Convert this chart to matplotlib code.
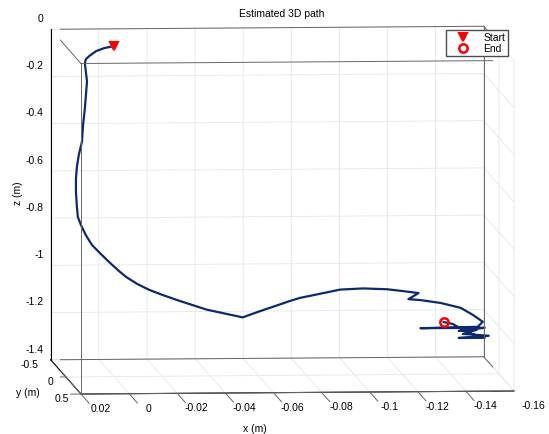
import numpy as np
import matplotlib.pyplot as plt
from mpl_toolkits.mplot3d import proj3d

plt.rcParams['font.family'] = ['Liberation Sans', 'DejaVu Sans']
plt.rcParams['grid.color'] = '#e6e6e6'
plt.rcParams['grid.linewidth'] = 0.6

# estimated path (y stays at 0)
path_x = [0.0, 0.0041, 0.0075, 0.0104, 0.0117, 0.0121, 0.0117, 0.0112, 0.0117, 0.0121,
          0.0129, 0.0133, 0.0146, 0.0154, 0.0158, 0.0158, 0.0154, 0.0150, 0.0137, 0.0117,
          0.0091, 0.0058, 0.0020, -0.0021, -0.0051, -0.0097, -0.0147, -0.0201, -0.0259, -0.0322,
          -0.0385, -0.0460, -0.0535, -0.0606, -0.0669, -0.0731, -0.0773, -0.0857, -0.0940, -0.1036,
          -0.1136, -0.1203, -0.1266, -0.1224, -0.1274, -0.1358, -0.1441, -0.1491, -0.1533, -0.1512,
          -0.1274, -0.1541, -0.1433, -0.1508, -0.1450, -0.1558, -0.1433, -0.1541, -0.1475, -0.1408,
          -0.1370]
path_z = [0.0, -0.0085, -0.0213, -0.0426, -0.0553, -0.0723, -0.1064, -0.1489, -0.2128, -0.2638,
          -0.3404, -0.4042, -0.4595, -0.5106, -0.5617, -0.6170, -0.6808, -0.7234, -0.7574, -0.8000,
          -0.8426, -0.8766, -0.9149, -0.9532, -0.9787, -1.0085, -1.0340, -1.0553, -1.0766, -1.0979,
          -1.1191, -1.1361, -1.1531, -1.1276, -1.1064, -1.0851, -1.0723, -1.0553, -1.0383, -1.0340,
          -1.0383, -1.0468, -1.0553, -1.0808, -1.0851, -1.0979, -1.1191, -1.1489, -1.1787, -1.2000,
          -1.2042, -1.2042, -1.2170, -1.2127, -1.2297, -1.2383, -1.2468, -1.2468, -1.2255, -1.1872,
          -1.1787]
path_y = [0.0] * len(path_x)

x_lim = (-0.16, 0.02)
y_lim = (-0.5, 0.5)
z_lim = (-1.4, 0)
x_ticks = [0.02, 0, -0.02, -0.04, -0.06, -0.08, -0.1, -0.12, -0.14, -0.16]
x_labels = ['0.02', '0', '-0.02', '-0.04', '-0.06', '-0.08', '-0.1', '-0.12', '-0.14', '-0.16']
y_ticks = [-0.5, 0, 0.5]
y_labels = ['-0.5', '0', '0.5']
z_ticks = [0, -0.2, -0.4, -0.6, -0.8, -1, -1.2, -1.4]
z_labels = ['0', '-0.2', '-0.4', '-0.6', '-0.8', '-1', '-1.2', '-1.4']

fs = 7.5
edge_col = '0.4'

fig = plt.figure(figsize=(5.49, 4.34), dpi=100)
ax = fig.add_subplot(projection='3d', proj_type='ortho')
ax.set_position([2 / 549, 1 / 434, 1.0, 1.0])

ax.plot(path_x, path_y, path_z, color='#0d2a6e', lw=1.6)
ax.plot(path_x[:1], path_y[:1], path_z[:1], 'v', color='red', ms=6, mew=1.5, label='Start')
ax.plot(path_x[-1:], path_y[-1:], path_z[-1:], 'o', color='red', mfc='none', ms=6, mew=1.8, label='End')

# all 12 box edges, MATLAB style
for a in x_lim:
    for b in y_lim:
        ax.plot([a, a], [b, b], z_lim, color=edge_col, lw=0.7)
    for c in z_lim:
        ax.plot([a, a], y_lim, [c, c], color=edge_col, lw=0.7)
for b in y_lim:
    for c in z_lim:
        ax.plot(x_lim, [b, b], [c, c], color=edge_col, lw=0.7)

ax.set_xlim(x_lim)
ax.set_ylim(y_lim)
ax.set_zlim(z_lim)
ax.set_xticks(x_ticks)
ax.set_yticks(y_ticks)
ax.set_zticks(z_ticks)
for axis in (ax.xaxis, ax.yaxis, ax.zaxis):
    axis.set_tick_params(label1On=False, label2On=False)
    axis.set_pane_color((1, 1, 1, 0))
    axis.pane.set_edgecolor(edge_col)
    axis._axinfo['tick']['inward_factor'] = 0
    axis._axinfo['tick']['outward_factor'] = 0

ax.set_box_aspect((432, 384, 330), zoom=1.497)
ax.view_init(elev=5.1, azim=85.5)
fig.canvas.draw()
M = ax.get_proj()


def label_at(x, y, z, s, **kw):
    # flat text at the projected spot of a 3D point
    px, py, _ = proj3d.proj_transform(x, y, z, M)
    ax.text2D(px, py, s, transform=ax.transData, fontsize=fs, va='center', **kw)


# ticks and tick labels placed like MATLAB does
for xv, lab in zip(x_ticks, x_labels):
    ax.plot([xv, xv], [0.5, 0.77], [-1.4, -1.4], color=edge_col, lw=0.7)
    label_at(xv - 0.0005, 1.1, -1.377, lab, ha='center')
for yv, lab in zip(y_ticks, y_labels):
    ax.plot([0.02, 0.0242], [yv, yv], [-1.4, -1.4], color=edge_col, lw=0.7)
    label_at(0.025, yv, -1.422, lab, ha='right')
for zv, lab in zip(z_ticks, z_labels):
    ax.plot([0.02, 0.02], [-0.5, -0.77], [zv, zv], color=edge_col, lw=0.7)
    label_at(0.0192, -0.8, zv, lab, ha='right')

ax.legend(loc='upper right', bbox_to_anchor=(508 / 549, 1 - 30 / 434), bbox_transform=fig.transFigure,
          fontsize=fs, fancybox=False, edgecolor='0.3', framealpha=1, borderaxespad=0,
          handlelength=2.9, handletextpad=0.5, borderpad=0.25, labelspacing=0.1)

fig.text(282 / 549, 1 - 14 / 434, 'Estimated 3D path', fontsize=fs, ha='center', va='center')
fig.text(255 / 549, 1 - 429 / 434, 'x (m)', fontsize=fs, ha='center', va='center')
fig.text(28 / 549, 1 - 393 / 434, 'y (m)', fontsize=fs, ha='center', va='center')
fig.text(18 / 549, 1 - 193 / 434, 'z (m)', fontsize=fs, ha='center', va='center', rotation=90)

fig.savefig('out.png', dpi=100)
